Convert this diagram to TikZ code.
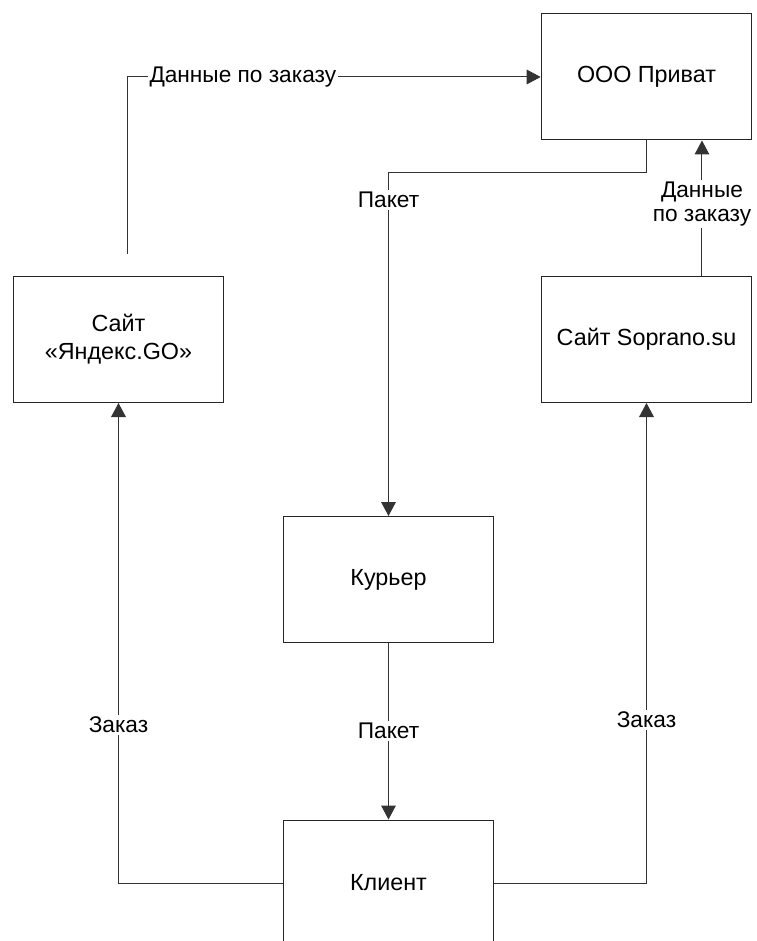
\documentclass[tikz,border=0pt]{standalone}
\usepackage{fontspec}
\setmainfont{Liberation Sans}
\usetikzlibrary{arrows.meta}

\begin{document}
\begin{tikzpicture}[
        x=0.75pt, y=-0.75pt,
        % Стиль для блоков (прямоугольники)
        block/.style={rectangle, draw=black!85, line width=0.75pt, fill=white, minimum width=158pt, minimum height=94.5pt, inner sep=0pt, font=\fontsize{17.5}{21}\selectfont},
        % Стиль для потоков (стрелки)
        flow/.style={draw=black!80, line width=0.75pt, -{Triangle[length=10.5pt,width=11pt]}},
        % Стиль для подписей на потоках
        tag/.style={fill=white, inner sep=1.5pt, align=center, font=\fontsize{17}{18}\selectfont}
    ]
        \useasboundingbox (0,0) rectangle (756,941);

        % --- КООРДИНАТЫ БЛОКОВ ---
        \node[block] (OOO)     at (646.5, 77)    {ООО Приват};
        \node[block, align=center] (Yandex)  at (118.5, 339.5) {Сайт\\«Яндекс.GO»};
        \node[block] (Soprano) at (646.5, 339.5) {Сайт Soprano.su};
        \node[block] (Kurier)  at (388.5, 579.5) {Курьер};
        \node[block] (Klient)  at (388.5, 883)   {Клиент};

        % свободный конец линии над «Яндекс.GO»
        \coordinate (ytop) at (127, 254);

        % --- ПОТОКИ ---

        % Данные от «Яндекс.GO» в ООО Приват
        \draw[flow] (ytop) |- node[tag, pos=0.64] {Данные по заказу} (OOO.west);

        % Пакет от ООО Приват курьеру
        \draw[flow] (OOO.south) -- ++(0, 32) -| node[tag, pos=0.54] {Пакет} (Kurier.north);

        % Данные от Soprano.su в ООО Приват
        \draw[flow] ([xshift=41.6pt]Soprano.north) -- node[tag, pos=0.53] {Данные\\по заказу} ([xshift=41.6pt]OOO.south);

        % Пакет от курьера клиенту
        \draw[flow] (Kurier.south) -- node[tag] {Пакет} (Klient.north);

        % Заказы клиента
        \draw[flow] (Klient.west) -| node[tag, pos=0.665] {Заказ} (Yandex.south);
        \draw[flow] (Klient.east) -| node[tag, pos=0.67] {Заказ} (Soprano.south);

    \end{tikzpicture}
\end{document}
